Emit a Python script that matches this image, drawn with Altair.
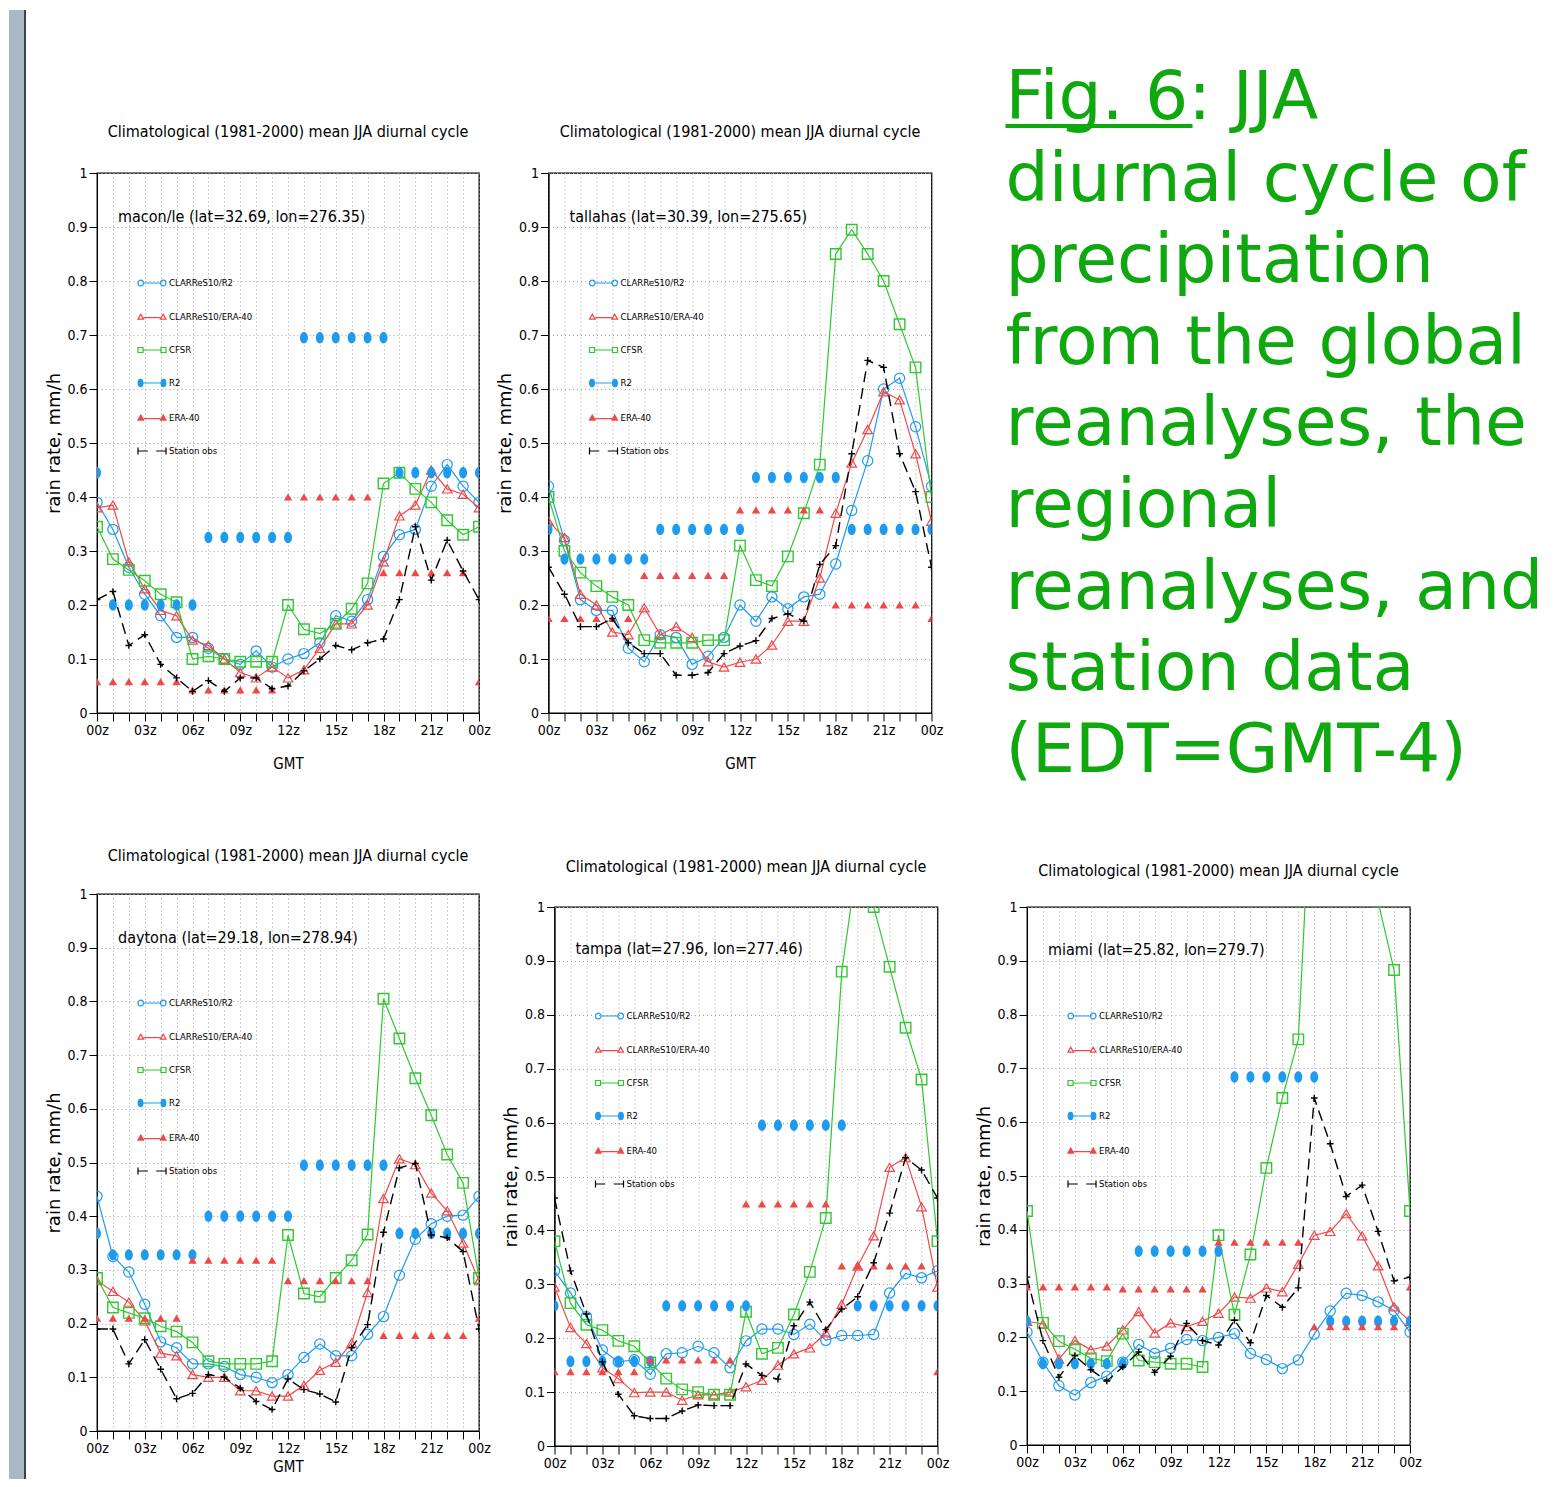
import altair as alt
import pandas as pd

# ---------------- data ----------------
HOURS = list(range(25))
Y_TICKS = [0, 0.1, 0.2, 0.3, 0.4, 0.5, 0.6, 0.7, 0.8, 0.9, 1]
SERIES = ["CLARReS10/R2", "CLARReS10/ERA-40", "CFSR", "R2", "ERA-40", "Station obs"]
PANEL_TITLE = "Climatological (1981-2000) mean JJA diurnal cycle"
STATIONS = [
    "macon/le (lat=32.69, lon=276.35)",
    "tallahas (lat=30.39, lon=275.65)",
    "daytona (lat=29.18, lon=278.94)",
    "tampa (lat=27.96, lon=277.46)",
    "miami (lat=25.82, lon=279.7)",
]
FIG_TEXT = ["Fig. 6: JJA", "diurnal cycle of", "precipitation", "from the global",
            "reanalyses, the", "regional", "reanalyses, and", "station data", "(EDT=GMT-4)"]

# macon
MACON_CL_R2 = [0.39, 0.34, 0.27, 0.22, 0.18, 0.14, 0.14, 0.12, 0.10, 0.09, 0.115, 0.085, 0.10,
               0.11, 0.13, 0.18, 0.17, 0.21, 0.29, 0.33, 0.34, 0.42, 0.46, 0.42, 0.39]
MACON_CL_ERA = [0.38, 0.385, 0.28, 0.23, 0.19, 0.18, 0.135, 0.125, 0.10, 0.075, 0.065, 0.085, 0.065,
                0.08, 0.12, 0.165, 0.165, 0.20, 0.28, 0.365, 0.385, 0.45, 0.415, 0.405, 0.38]
MACON_CFSR = [0.345, 0.285, 0.265, 0.245, 0.22, 0.205, 0.10, 0.105, 0.10, 0.095, 0.095, 0.095, 0.20,
              0.155, 0.147, 0.165, 0.193, 0.24, 0.425, 0.445, 0.415, 0.39, 0.357, 0.33, 0.345]
MACON_R2 = [0.445, 0.20, 0.20, 0.20, 0.20, 0.20, 0.20, 0.325, 0.325, 0.325, 0.325, 0.325, 0.325,
            0.695, 0.695, 0.695, 0.695, 0.695, 0.695, 0.445, 0.445, 0.445, 0.445, 0.445, 0.445]
MACON_ERA = [0.058, 0.058, 0.058, 0.058, 0.058, 0.058, 0.043, 0.043, 0.043, 0.043, 0.043, 0.043, 0.40,
             0.40, 0.40, 0.40, 0.40, 0.40, 0.26, 0.26, 0.26, 0.26, 0.26, 0.26, 0.058]
MACON_OBS = [0.21, 0.225, 0.125, 0.145, 0.09, 0.065, 0.04, 0.06, 0.04, 0.065, 0.065, 0.045, 0.05,
             0.078, 0.10, 0.125, 0.117, 0.13, 0.137, 0.21, 0.345, 0.246, 0.32, 0.263, 0.21]

# tallahassee
TALL_CL_R2 = [0.42, 0.32, 0.21, 0.19, 0.19, 0.12, 0.095, 0.145, 0.14, 0.09, 0.105, 0.14, 0.20,
              0.17, 0.215, 0.193, 0.215, 0.22, 0.276, 0.375, 0.467, 0.60, 0.62, 0.53, 0.42]
TALL_CL_ERA = [0.355, 0.325, 0.22, 0.20, 0.15, 0.145, 0.195, 0.145, 0.16, 0.14, 0.095, 0.085, 0.094,
               0.10, 0.126, 0.17, 0.17, 0.25, 0.37, 0.463, 0.525, 0.595, 0.58, 0.48, 0.355]
TALL_CFSR = [0.40, 0.30, 0.26, 0.235, 0.215, 0.20, 0.135, 0.13, 0.13, 0.13, 0.135, 0.135, 0.31,
             0.246, 0.235, 0.29, 0.37, 0.46, 0.85, 0.895, 0.85, 0.80, 0.72, 0.64, 0.40]
TALL_R2 = [0.34, 0.285, 0.285, 0.285, 0.285, 0.285, 0.285, 0.34, 0.34, 0.34, 0.34, 0.34, 0.34,
           0.436, 0.436, 0.436, 0.436, 0.436, 0.436, 0.34, 0.34, 0.34, 0.34, 0.34, 0.34]
TALL_ERA = [0.175, 0.175, 0.175, 0.175, 0.175, 0.175, 0.255, 0.255, 0.255, 0.255, 0.255, 0.255, 0.376,
            0.376, 0.376, 0.376, 0.376, 0.376, 0.20, 0.20, 0.20, 0.20, 0.20, 0.20, 0.175]
TALL_OBS = [0.27, 0.22, 0.16, 0.16, 0.175, 0.13, 0.11, 0.11, 0.07, 0.07, 0.075, 0.11, 0.124,
            0.134, 0.175, 0.184, 0.17, 0.275, 0.31, 0.48, 0.653, 0.64, 0.48, 0.41, 0.27]

# daytona
DAYT_CL_R2 = [0.437, 0.325, 0.296, 0.236, 0.166, 0.155, 0.125, 0.125, 0.12, 0.105, 0.10, 0.09, 0.105,
              0.137, 0.162, 0.14, 0.14, 0.18, 0.213, 0.29, 0.357, 0.386, 0.40, 0.402, 0.437]
DAYT_CL_ERA = [0.28, 0.26, 0.24, 0.205, 0.145, 0.14, 0.105, 0.10, 0.10, 0.075, 0.075, 0.065, 0.065,
               0.085, 0.113, 0.128, 0.164, 0.258, 0.433, 0.507, 0.496, 0.443, 0.41, 0.35, 0.28]
DAYT_CFSR = [0.285, 0.23, 0.22, 0.21, 0.195, 0.185, 0.165, 0.13, 0.125, 0.125, 0.125, 0.13, 0.365,
             0.256, 0.25, 0.285, 0.318, 0.366, 0.805, 0.731, 0.657, 0.588, 0.515, 0.462, 0.285]
DAYT_R2 = [0.368, 0.328, 0.328, 0.328, 0.328, 0.328, 0.328, 0.40, 0.40, 0.40, 0.40, 0.40, 0.40,
           0.495, 0.495, 0.495, 0.495, 0.495, 0.495, 0.368, 0.368, 0.368, 0.368, 0.368, 0.368]
DAYT_ERA = [0.21, 0.21, 0.21, 0.21, 0.21, 0.21, 0.318, 0.318, 0.318, 0.318, 0.318, 0.318, 0.28,
            0.28, 0.28, 0.28, 0.28, 0.28, 0.178, 0.178, 0.178, 0.178, 0.178, 0.178, 0.21]
DAYT_OBS = [0.19, 0.19, 0.125, 0.17, 0.115, 0.06, 0.07, 0.105, 0.10, 0.08, 0.055, 0.04, 0.097,
            0.077, 0.069, 0.054, 0.155, 0.198, 0.37, 0.49, 0.498, 0.365, 0.36, 0.334, 0.19]

# tampa
TAMP_CL_R2 = [0.325, 0.284, 0.24, 0.178, 0.156, 0.16, 0.133, 0.171, 0.173, 0.185, 0.173, 0.145, 0.195,
              0.217, 0.217, 0.207, 0.226, 0.196, 0.205, 0.205, 0.207, 0.284, 0.32, 0.312, 0.325]
TAMP_CL_ERA = [0.295, 0.22, 0.19, 0.145, 0.125, 0.099, 0.10, 0.10, 0.085, 0.095, 0.095, 0.10, 0.11,
               0.122, 0.15, 0.171, 0.182, 0.21, 0.263, 0.334, 0.39, 0.517, 0.535, 0.444, 0.295]
TAMP_CFSR = [0.38, 0.265, 0.225, 0.215, 0.195, 0.185, 0.155, 0.125, 0.105, 0.10, 0.095, 0.095, 0.249,
             0.171, 0.182, 0.244, 0.323, 0.423, 0.88, 1.09, 1.0, 0.889, 0.776, 0.68, 0.38]
TAMP_R2 = [0.26, 0.157, 0.157, 0.157, 0.157, 0.157, 0.157, 0.26, 0.26, 0.26, 0.26, 0.26, 0.26,
           0.595, 0.595, 0.595, 0.595, 0.595, 0.595, 0.26, 0.26, 0.26, 0.26, 0.26, 0.26]
TAMP_ERA = [0.138, 0.138, 0.138, 0.138, 0.138, 0.138, 0.16, 0.16, 0.16, 0.16, 0.16, 0.16, 0.449,
            0.449, 0.449, 0.449, 0.449, 0.449, 0.334, 0.334, 0.334, 0.334, 0.334, 0.334, 0.138]
TAMP_OBS = [0.46, 0.325, 0.245, 0.156, 0.096, 0.056, 0.051, 0.051, 0.065, 0.076, 0.075, 0.075, 0.152,
            0.131, 0.124, 0.223, 0.267, 0.216, 0.254, 0.277, 0.34, 0.432, 0.535, 0.512, 0.46]

# miami
MIAM_CL_R2 = [0.21, 0.154, 0.11, 0.093, 0.116, 0.128, 0.154, 0.187, 0.17, 0.18, 0.196, 0.194, 0.20,
              0.207, 0.17, 0.159, 0.142, 0.158, 0.206, 0.249, 0.282, 0.278, 0.266, 0.25, 0.21]
MIAM_CL_ERA = [0.23, 0.225, 0.16, 0.194, 0.177, 0.184, 0.214, 0.248, 0.208, 0.227, 0.22, 0.23, 0.245,
               0.275, 0.273, 0.292, 0.285, 0.336, 0.39, 0.397, 0.43, 0.389, 0.333, 0.257, 0.23]
MIAM_CFSR = [0.435, 0.227, 0.193, 0.178, 0.161, 0.156, 0.207, 0.157, 0.154, 0.151, 0.151, 0.145, 0.39,
             0.242, 0.354, 0.515, 0.645, 0.754, 1.34, 1.6, 1.55, 1.3, 1.01, 0.883, 0.435]
MIAM_R2 = [0.23, 0.151, 0.151, 0.151, 0.151, 0.151, 0.151, 0.36, 0.36, 0.36, 0.36, 0.36, 0.36,
           0.684, 0.684, 0.684, 0.684, 0.684, 0.684, 0.23, 0.23, 0.23, 0.23, 0.23, 0.23]
MIAM_ERA = [0.294, 0.294, 0.294, 0.294, 0.294, 0.294, 0.29, 0.29, 0.29, 0.29, 0.29, 0.29, 0.377,
            0.377, 0.377, 0.377, 0.377, 0.377, 0.22, 0.22, 0.22, 0.22, 0.22, 0.22, 0.294]
MIAM_OBS = [0.312, 0.194, 0.126, 0.166, 0.14, 0.119, 0.145, 0.173, 0.135, 0.165, 0.226, 0.194, 0.186,
            0.232, 0.19, 0.278, 0.256, 0.292, 0.645, 0.56, 0.462, 0.483, 0.397, 0.305, 0.312]

PANEL_DATA = [
    [MACON_CL_R2, MACON_CL_ERA, MACON_CFSR, MACON_R2, MACON_ERA, MACON_OBS],
    [TALL_CL_R2, TALL_CL_ERA, TALL_CFSR, TALL_R2, TALL_ERA, TALL_OBS],
    [DAYT_CL_R2, DAYT_CL_ERA, DAYT_CFSR, DAYT_R2, DAYT_ERA, DAYT_OBS],
    [TAMP_CL_R2, TAMP_CL_ERA, TAMP_CFSR, TAMP_R2, TAMP_ERA, TAMP_OBS],
    [MIAM_CL_R2, MIAM_CL_ERA, MIAM_CFSR, MIAM_R2, MIAM_ERA, MIAM_OBS],
]

# ---------------- styles ----------------
COND = "DejaVu Sans Condensed"
BLUE = "#1e9bef"
RED = "#f04848"
GREEN = "#30c830"
FIG_GREEN = "#0fa80f"
STRIP_GRAY = "#aab8c6"

ELLIPSE = "M0,-1A0.7,1 0 1,1 0,1A0.7,1 0 1,1 0,-1Z"
PLUS = "M-1,0H1M0,-1V1"

STYLE = {
    "CLARReS10/R2": dict(color=BLUE, line=True, dash=None, lw=1.2, shape="circle", size=105, filled=False, mw=1.2),
    "CLARReS10/ERA-40": dict(color=RED, line=True, dash=None, lw=1.2, shape="triangle-up", size=90, filled=False, mw=1.2),
    "CFSR": dict(color=GREEN, line=True, dash=None, lw=1.2, shape="square", size=110, filled=False, mw=1.4),
    "R2": dict(color=BLUE, line=False, dash=None, lw=1.2, shape=ELLIPSE, size=130, filled=True, mw=0),
    "ERA-40": dict(color=RED, line=False, dash=None, lw=1.2, shape="triangle-up", size=70, filled=True, mw=0),
    "Station obs": dict(color="black", line=True, dash=[11, 6], lw=1.4, shape=PLUS, size=45, filled=False, mw=1.4),
}

LEG_PATHS = [
    "M-1,0A0.2,0.2 0 1,1 -0.6,0A0.2,0.2 0 1,1 -1,0M-0.6,0L0.6,0M0.6,0A0.2,0.2 0 1,1 1,0A0.2,0.2 0 1,1 0.6,0",
    "M-1,0.15L-0.8,-0.2L-0.6,0.15Z M-0.6,0.05L0.6,0.05 M0.6,0.15L0.8,-0.2L1,0.15Z",
    "M-1,-0.18H-0.64V0.18H-1Z M-0.64,0H0.64 M0.64,-0.18H1V0.18H0.64Z",
    "M-0.82,-0.26A0.17,0.26 0 1,1 -0.82,0.26A0.17,0.26 0 1,1 -0.82,-0.26Z M-0.82,0H0.82 M0.82,-0.26A0.17,0.26 0 1,1 0.82,0.26A0.17,0.26 0 1,1 0.82,-0.26Z",
    "M-1,0.15L-0.8,-0.22L-0.6,0.15Z M-0.6,0.05L0.6,0.05 M0.6,0.15L0.8,-0.22L1,0.15Z",
    "M-1,-0.25V0.25M-1,0H-0.3M0.3,0H1M1,-0.25V0.25",
]
LEG_STROKE = [BLUE, RED, GREEN, BLUE, RED, "black"]
LEG_FILL = ["transparent", "transparent", "transparent", BLUE, RED, "transparent"]

XLABEL_EXPR = ("datum.value % 3 == 0 ? ((datum.value % 24) < 10 ? '0' : '') + (datum.value % 24) + 'z' : ''")
YLABEL_EXPR = "format(datum.value, '.1~f')"

ONE = pd.DataFrame({"a": [0]})
NOVIEW = alt.ViewBackground(stroke="transparent")


def make_panel(station, lists, width, height, legend_y, label_y, title_offset, xtitle, xtitle_pad):
    rows = []
    for s, vals in zip(SERIES, lists):
        for h, v in zip(HOURS, vals):
            rows.append({"series": s, "hour": h, "value": v})
    df = pd.DataFrame(rows)
    xaxis_kw = dict(values=HOURS, labelExpr=XLABEL_EXPR, grid=True, labelOverlap=False,
                    labelFlush=False, labelPadding=2)
    if xtitle:
        xaxis_kw.update(title="GMT", titlePadding=xtitle_pad)
    else:
        xaxis_kw.update(title="")
    x = alt.X("hour:Q", scale=alt.Scale(domain=[0, 24], nice=False, zero=False),
              axis=alt.Axis(**xaxis_kw))
    y = alt.Y("value:Q", scale=alt.Scale(domain=[0, 1], nice=False, zero=False),
              axis=alt.Axis(values=Y_TICKS, labelExpr=YLABEL_EXPR, title="rain rate, mm/h", grid=True,
                            titlePadding=3.5, labelPadding=2, labelOverlap=False, labelFlush=False))
    layers = []
    for s in SERIES:
        st = STYLE[s]
        sub = alt.Chart(df).transform_filter(alt.datum.series == s)
        if st["line"]:
            kw = dict(color=st["color"], strokeWidth=st["lw"], clip=True)
            if st["dash"]:
                kw["strokeDash"] = st["dash"]
            layers.append(sub.mark_line(**kw).encode(x=x, y=y))
        pk = dict(shape=st["shape"], size=st["size"], filled=st["filled"], color=st["color"],
                  opacity=1, clip=True)
        if not st["filled"]:
            pk["strokeWidth"] = st["mw"]
        layers.append(sub.mark_point(**pk).encode(x=x, y=y))

    leg = alt.Legend(orient="none", legendX=40, legendY=legend_y, title=None, symbolSize=784,
                     symbolStrokeWidth=1.2, labelFont=COND, labelFontSize=9.5, labelColor="black",
                     labelOffset=2, rowPadding=13, padding=0)
    legdf = pd.DataFrame({"series": SERIES, "hour": [0] * 6, "value": [-1] * 6})
    layers.append(
        alt.Chart(legdf).mark_point(filled=True, size=784, strokeWidth=1.2, clip=True, opacity=1).encode(
            x=x, y=y,
            stroke=alt.Stroke("series:N", scale=alt.Scale(domain=SERIES, range=LEG_STROKE), legend=leg),
            fill=alt.Fill("series:N", scale=alt.Scale(domain=SERIES, range=LEG_FILL), legend=leg),
            shape=alt.Shape("series:N", scale=alt.Scale(domain=SERIES, range=LEG_PATHS), legend=leg),
        )
    )
    layers.append(
        alt.Chart(pd.DataFrame({"t": [station]})).mark_text(
            align="left", baseline="middle", font=COND, fontSize=16, color="black"
        ).encode(text="t:N", x=alt.value(21), y=alt.value(label_y))
    )
    return alt.layer(*layers).properties(
        width=width, height=height,
        title=alt.TitleParams(PANEL_TITLE, font=COND, fontSize=16, fontWeight="normal",
                              color="black", offset=title_offset, anchor="middle", frame="group"),
    )


# big caption text block
fig_layers = []
for i, line in enumerate(FIG_TEXT):
    fig_layers.append(
        alt.Chart(pd.DataFrame({"t": [line]})).mark_text(
            align="left", baseline="alphabetic", font="DejaVu Sans", fontSize=68, color=FIG_GREEN
        ).encode(text="t:N", x=alt.value(0), y=alt.value(-54 + i * 81.6))
    )
fig_layers.append(
    alt.Chart(ONE).mark_rule(color=FIG_GREEN, strokeWidth=4).encode(
        x=alt.value(0), x2=alt.value(187), y=alt.value(-47))
)
caption = alt.layer(*fig_layers).properties(width=1, height=1, view=NOVIEW)

p1 = make_panel(STATIONS[0], PANEL_DATA[0], 382, 540, 95, 44, 26, True, 19)
p2 = make_panel(STATIONS[1], PANEL_DATA[1], 383, 540, 95, 44, 26, True, 19)
p3 = make_panel(STATIONS[2], PANEL_DATA[2], 382, 537, 94, 44, 23, True, 4)
p4 = make_panel(STATIONS[3], PANEL_DATA[3], 383, 539, 94, 42, 25, False, 0)
p5 = make_panel(STATIONS[4], PANEL_DATA[4], 383, 538, 94, 43, 21, False, 0)


def indep(c):
    return c.resolve_scale(stroke="independent", fill="independent", shape="independent").resolve_legend(
        stroke="independent", fill="independent", shape="independent")


strip = (
    alt.Chart(ONE).mark_rect(color=STRIP_GRAY).encode(
        x=alt.value(0), x2=alt.value(15), y=alt.value(-163), y2=alt.value(1306))
    + alt.Chart(ONE).mark_rule(color="#3a4450", strokeWidth=2).encode(
        x=alt.value(16), y=alt.value(-163), y2=alt.value(1306))
).properties(width=18, height=1, view=NOVIEW)

tiny = alt.Chart(ONE).mark_rule(strokeOpacity=0).encode(
    x=alt.value(0), y=alt.value(0), y2=alt.value(1)).properties(width=1, height=1, view=NOVIEW)

panels_top = indep(alt.hconcat(p1, p2, spacing=4.5))
top_row = indep(alt.hconcat(panels_top, caption, spacing=58.5))
inner = indep(alt.hconcat(p4, p5, spacing=24.5))
inner_wrap = indep(alt.vconcat(tiny, inner, spacing=-38))
bottom_row = indep(alt.hconcat(p3, inner_wrap, spacing=10.5))
main = indep(alt.vconcat(top_row, bottom_row, spacing=60))

chart = (
    indep(alt.hconcat(strip, main, spacing=16))
    .properties(padding=0, background="white")
    .configure_view(stroke="black", strokeWidth=1.3)
    .configure_axis(
        labelFont=COND, labelFontSize=14, labelColor="black",
        titleFont="DejaVu Sans", titleFontSize=18, titleFontWeight="normal", titleColor="black",
        tickColor="black", tickSize=8, tickWidth=1, domainColor="black", domainWidth=1,
        gridColor="#a0a0a0", gridDash=[1, 3], gridWidth=1,
    )
    .configure_axisX(titleFont=COND, titleFontSize=15)
)

chart.save("out.html", embed_options={"renderer": "svg", "actions": False})
